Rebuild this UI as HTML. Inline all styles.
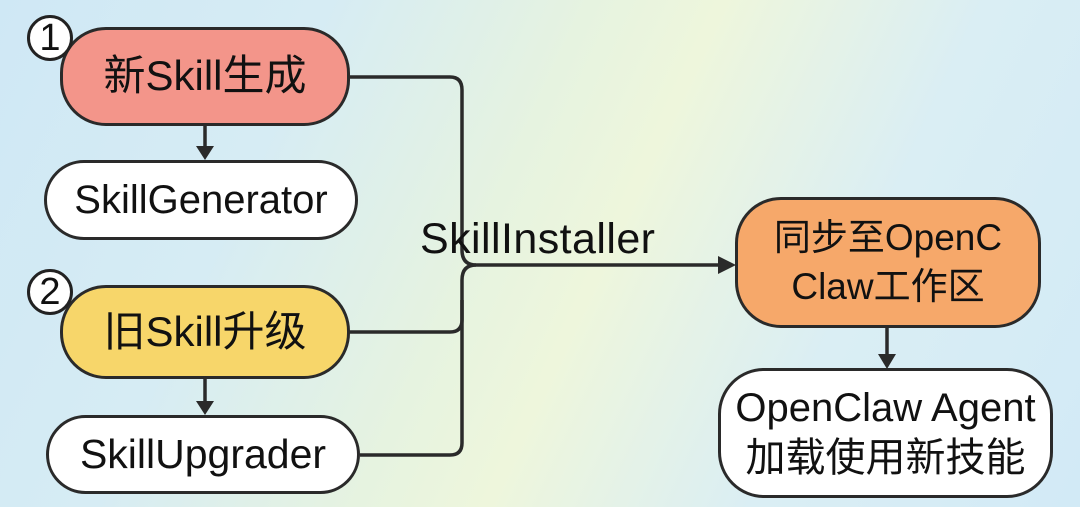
<!DOCTYPE html>
<html><head><meta charset="utf-8"><style>
html,body{margin:0;padding:0}
body{width:1080px;height:507px;overflow:hidden;position:relative;
background:linear-gradient(115deg,#cfe8f5 0%,#d6ecf4 25%,#e6f3e0 45%,#eef6dc 55%,#daeef4 75%,#d2eaf6 100%);
font-family:"Liberation Sans","Noto Sans CJK SC",sans-serif;color:#111}
.b{position:absolute;box-sizing:border-box;border:3px solid #2a2a2a;border-radius:46px;display:flex;align-items:center;justify-content:center;text-align:center;line-height:1.15;white-space:nowrap}
.c{position:absolute;width:46px;height:46px;border:3px solid #222;border-radius:50%;background:#fff;box-sizing:border-box;font-size:38px;display:flex;align-items:center;justify-content:center}
</style></head><body>
<svg width="1080" height="507" style="position:absolute;left:0;top:0">
<g fill="none" stroke="#2a2a2a" stroke-width="3.5">
<path d="M348 77 H450 Q462 77 462 90 V250 Q462 265 476 265 H722"/>
<path d="M348 332 H450 Q462 332 462 320 V280 Q462 265 476 265"/>
<path d="M360 455 H450 Q462 455 462 443 V300"/>
<path d="M205 125 V150"/><path d="M205 378 V405"/><path d="M887 327 V358"/>
</g>
<g fill="#2a2a2a">
<path d="M196 146 L214 146 L205 160Z"/><path d="M196 401 L214 401 L205 415Z"/>
<path d="M878 354 L896 354 L887 369Z"/><path d="M718 256 L736 265 L718 274Z"/>
</g>
<text x="420" y="253" font-size="43" textLength="235" font-family="Liberation Sans, sans-serif" fill="#111">SkillInstaller</text>
</svg>
<div class="b" style="left:60px;top:27px;width:290px;height:99px;background:#f3958a;font-size:42px">新Skill生成</div>
<div class="b" style="left:44px;top:160px;width:314px;height:80px;background:#fff;font-size:40px">SkillGenerator</div>
<div class="b" style="left:60px;top:285px;width:290px;height:94px;background:#f7d66a;font-size:42px">旧Skill升级</div>
<div class="b" style="left:46px;top:415px;width:314px;height:79px;background:#fff;font-size:41px">SkillUpgrader</div>
<div class="b" style="left:735px;top:197px;width:306px;height:131px;background:#f6a86a;font-size:37px;line-height:1.32">同步至OpenC<br>Claw工作区</div>
<div class="b" style="left:718px;top:368px;width:335px;height:130px;background:#fff;font-size:40px;line-height:1.25">OpenClaw Agent<br>加载使用新技能</div>
<div class="c" style="left:27px;top:15px">1</div>
<div class="c" style="left:27px;top:269px">2</div>
</body></html>
